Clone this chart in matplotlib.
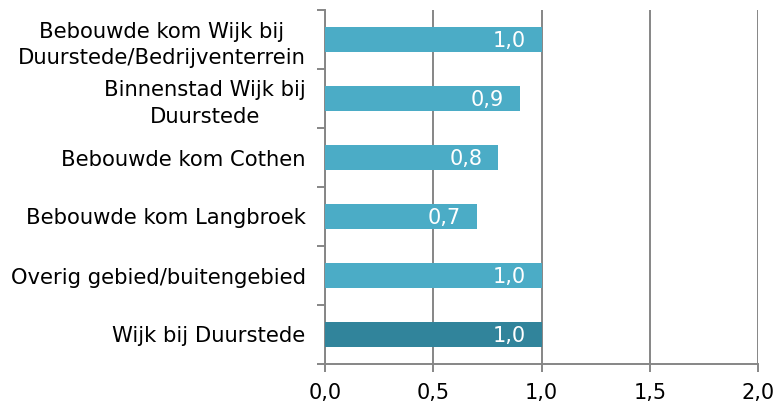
import matplotlib
matplotlib.use("Agg")
import matplotlib.pyplot as plt
import numpy as np

categories = [
    "Bebouwde kom Wijk bij\nDuurstede/Bedrijventerrein",
    "Binnenstad Wijk bij\nDuurstede",
    "Bebouwde kom Cothen",
    "Bebouwde kom Langbroek",
    "Overig gebied/buitengebied",
    "Wijk bij Duurstede",
]
values = [1.0, 0.9, 0.8, 0.7, 1.0, 1.0]
value_labels = ["1,0", "0,9", "0,8", "0,7", "1,0", "1,0"]
xticks = [0.0, 0.5, 1.0, 1.5, 2.0]
xtick_labels = ["0,0", "0,5", "1,0", "1,5", "2,0"]

light = "#4bacc6"
dark = "#31849b"
colors = [light] * 5 + [dark]
grey = "#868686"

fig = plt.figure(figsize=(7.78, 4.05), dpi=100)
ax = fig.add_axes([325/778, 1 - 364/405, (758 - 325)/778, (364 - 10)/405])

n = len(categories)
y = np.arange(n)[::-1]  # first category at top
ax.barh(y, values, height=0.435, color=colors, zorder=3)

ax.set_xlim(0, 2.0)
ax.set_ylim(-0.5, n - 0.5)
ax.set_xticks(xticks)
ax.set_xticklabels(xtick_labels, fontsize=15)
ax.xaxis.grid(True, color=grey, linewidth=1.4, zorder=0)

ax.set_yticks(y)
ax.set_yticklabels(categories, fontsize=15.2, multialignment="center", linespacing=1.4)
ax.tick_params(axis="y", length=0, pad=14)
# boundary tick marks
ax.set_yticks(np.arange(-0.5, n, 1.0), minor=True)
ax.tick_params(axis="y", which="minor", length=6, color=grey, width=1.4, direction="out")
ax.tick_params(axis="x", length=6, color=grey, width=1.4, direction="out", pad=8)

for s in ["top", "right"]:
    ax.spines[s].set_visible(False)
for s in ["left", "bottom"]:
    ax.spines[s].set_color(grey)
    ax.spines[s].set_linewidth(1.4)

for yi, v, lab in zip(y, values, value_labels):
    ax.annotate(lab, xy=(v, yi), xytext=(-11.5, -1), textcoords="offset points",
                ha="right", va="center", color="white", fontsize=15, zorder=4)

fig.savefig("out.png", dpi=100)
